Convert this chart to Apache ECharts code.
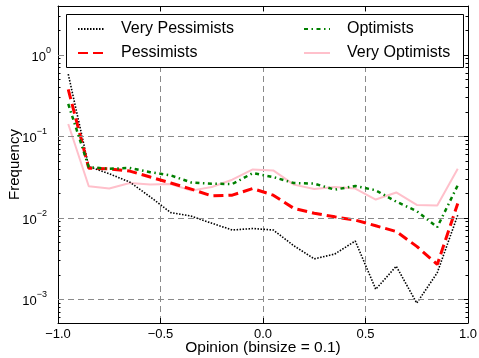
<!DOCTYPE html>
<html><head><meta charset="utf-8">
<script src="https://cdn.jsdelivr.net/npm/echarts@6/dist/echarts.min.js"></script>
<style>html,body{margin:0;padding:0;background:#fff}#c{width:479px;height:358px}</style>
</head><body><div id="c"></div>
<script>
const binCenters = [-0.95,-0.85,-0.75,-0.65,-0.55,-0.45,-0.35,-0.25,-0.15,-0.05,0.05,0.15,0.25,0.35,0.45,0.55,0.65,0.75,0.85,0.95];
const seriesNames = ['Very Pessimists','Pessimists','Optimists','Very Optimists'];
const veryPessimists = [0.58,0.0427,0.0348,0.0275,0.0181,0.0116,0.0105,0.0086,0.0071,0.0074,0.0071,0.00456,0.00314,0.0036,0.0052,0.00133,0.00255,0.0009,0.00212,0.0108];
const pessimists = [0.378,0.0407,0.040,0.0375,0.0317,0.0268,0.0225,0.0186,0.019,0.0229,0.019,0.0131,0.0114,0.0103,0.0094,0.0080,0.0068,0.00447,0.00268,0.0150];
const optimists = [0.25,0.042,0.040,0.041,0.0364,0.0332,0.0272,0.0263,0.026,0.0354,0.0317,0.0268,0.0263,0.0222,0.0246,0.0218,0.0158,0.0121,0.0077,0.0251];
const veryOptimists = [0.142,0.0244,0.0229,0.0268,0.0256,0.026,0.0216,0.0239,0.0294,0.0393,0.0382,0.0256,0.0226,0.024,0.0229,0.0168,0.0205,0.0144,0.0142,0.040];
const xTickValues = [-1,-0.5,0,0.5,1];
const yDecadeExps = [-3,-2,-1,0];
const yMinExp = -3.29, yMaxExp = 0.6;

const FONT = '"Liberation Sans", Arial, sans-serif';
const minorExps = [];
for (let e = -4; e <= 0; e++) for (let k = 2; k <= 9; k++) {
  const t = e + Math.log10(k);
  if (t > yMinExp && t < yMaxExp) minorExps.push(t);
}
const toPairs = arr => arr.map((v, i) => [binCenters[i], Math.log10(v)]);
const fmtMinus = s => s.replace('-', '\u2212');

function yAx(pos, opts) {
  return Object.assign({
    type: 'value', min: yMinExp, max: yMaxExp, position: pos,
    splitLine: {show: false},
    axisLine: {show: false, onZero: false},
    axisLabel: {show: false},
    axisTick: {show: false}
  }, opts);
}
const gridColor = '#8a8a8a';
const legendCommon = {
  orient: 'vertical', padding: 0, itemGap: 8, itemWidth: 26, itemHeight: 14, z: 20,
  itemStyle: {color: 'rgba(0,0,0,0)', borderWidth: 0, opacity: 0},
  textStyle: {fontFamily: FONT, fontSize: 16, color: '#000', lineHeight: 16, padding: [0, 0, 0, 12]}
};

const option = {
  animation: false,
  backgroundColor: '#fff',
  grid: {left: 58, right: 11, top: 6, bottom: 35, containLabel: false, outerBoundsMode: 'none'},
  xAxis: [
    {type: 'value', min: -1, max: 1, interval: 0.5, position: 'bottom',
     axisLine: {show: true, onZero: false, lineStyle: {color: '#000', width: 1}},
     axisTick: {show: true, inside: true, length: 5, lineStyle: {color: '#000'}},
     axisLabel: {color: '#000', fontFamily: FONT, fontSize: 13, margin: 5,
       formatter: v => fmtMinus(v.toFixed(1))},
     splitLine: {show: true, lineStyle: {color: gridColor, type: [6, 4], width: 1}},
     name: 'Opinion (binsize = 0.1)', nameLocation: 'middle', nameGap: 17, nameMoveOverlap: false,
     nameTextStyle: {color: '#000', fontFamily: FONT, fontSize: 15.5}},
    {type: 'value', min: -1, max: 1, interval: 0.5, position: 'top',
     axisLine: {show: true, onZero: false, lineStyle: {color: '#000', width: 1}},
     axisTick: {show: true, inside: true, length: 5, lineStyle: {color: '#000'}},
     axisLabel: {show: false}, splitLine: {show: false}}
  ],
  yAxis: [
    yAx('left', {
      axisLine: {show: true, onZero: false, lineStyle: {color: '#000', width: 1}},
      axisTick: {show: true, inside: true, length: 5, customValues: yDecadeExps, lineStyle: {color: '#000'}},
      axisLabel: {show: true, customValues: yDecadeExps, margin: 7, color: '#000',
        formatter: v => {
          const e = Math.round(v);
          return '{b|10}{' + (e < 0 ? 'sn' : 's') + '|' + fmtMinus(String(e)) + '}';
        },
        rich: {
          b: {fontFamily: FONT, fontSize: 13, color: '#000', lineHeight: 18, verticalAlign: 'bottom'},
          s: {fontFamily: FONT, fontSize: 9, color: '#000', lineHeight: 18, verticalAlign: 'top'},
          sn: {fontFamily: FONT, fontSize: 9, color: '#000', lineHeight: 18, verticalAlign: 'top', padding: [0, 4, 0, 0]}
        }},
      name: 'Frequency', nameLocation: 'middle', nameGap: 36, nameRotate: 90, nameMoveOverlap: false,
      nameTextStyle: {color: '#000', fontFamily: FONT, fontSize: 15}
    }),
    yAx('left', {
      axisTick: {show: true, inside: true, length: 2.5, customValues: minorExps, lineStyle: {color: '#000'}}
    }),
    yAx('right', {
      axisLine: {show: true, onZero: false, lineStyle: {color: '#000', width: 1}},
      axisTick: {show: true, inside: true, length: 5, customValues: yDecadeExps, lineStyle: {color: '#000'}}
    }),
    yAx('right', {
      axisTick: {show: true, inside: true, length: 2.5, customValues: minorExps, lineStyle: {color: '#000'}}
    })
  ],
  legend: [
    Object.assign({left: 77, top: 21, data: [seriesNames[0], seriesNames[1]]}, legendCommon),
    Object.assign({left: 303, top: 21, data: [seriesNames[2], seriesNames[3]]}, legendCommon)
  ],
  graphic: [
    {type: 'rect', left: 66, top: 14, z: 15, silent: true,
     shape: {width: 397, height: 53},
     style: {fill: '#fff', stroke: '#000', lineWidth: 1}}
  ],
  series: [
    {type: 'line', name: '_grid', data: [], z: 1, silent: true,
     markLine: {silent: true, symbol: 'none', label: {show: false},
       lineStyle: {color: gridColor, type: [6, 4], width: 1},
       data: yDecadeExps.map(e => ({yAxis: e}))}},
    {type: 'line', name: seriesNames[0], data: toPairs(veryPessimists), symbol: 'none', z: 3,
     lineStyle: {color: '#000', width: 1.6, type: [1.5, 1.5]}, itemStyle: {color: '#000'}},
    {type: 'line', name: seriesNames[1], data: toPairs(pessimists), symbol: 'none', z: 4,
     lineStyle: {color: '#ff0000', width: 3, type: [10, 5]}, itemStyle: {color: '#ff0000'}},
    {type: 'line', name: seriesNames[2], data: toPairs(optimists), symbol: 'none', z: 5,
     lineStyle: {color: '#008000', width: 2.5, type: [4, 3.5, 1.5, 3.5]}, itemStyle: {color: '#008000'}},
    {type: 'line', name: seriesNames[3], data: toPairs(veryOptimists), symbol: 'none', z: 2,
     lineStyle: {color: '#ffc0cb', width: 2}, itemStyle: {color: '#ffc0cb'}}
  ]
};
const chart = echarts.init(document.getElementById('c'), null, {renderer: 'canvas'});
chart.setOption(option);
</script></body></html>
